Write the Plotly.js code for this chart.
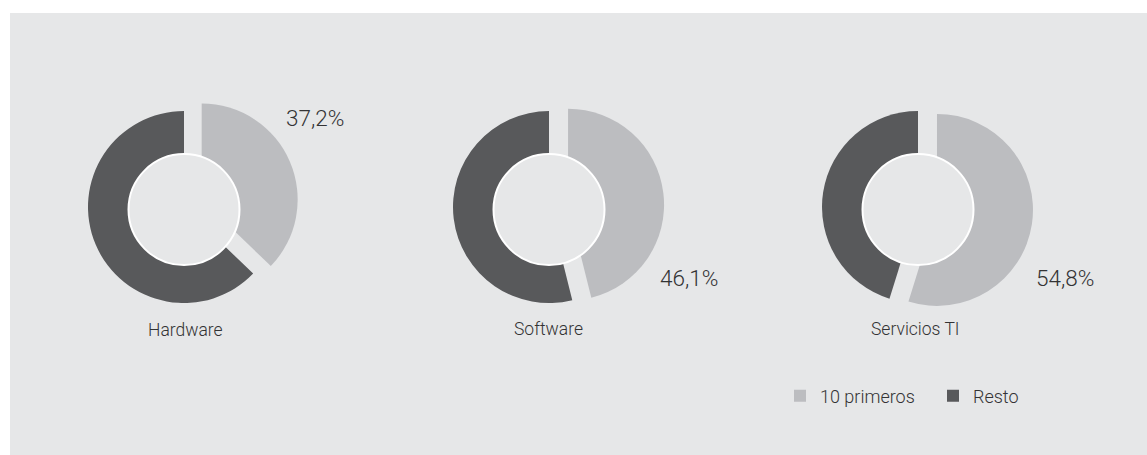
<!DOCTYPE html>
<html>
<head>
<meta charset="utf-8">
<script src="https://cdn.plot.ly/plotly-3.0.1.min.js"></script>
<style>
  html, body { margin: 0; padding: 0; background: #ffffff; }
  #chart { width: 1147px; height: 455px; }
</style>
</head>
<body>
<div id="chart"></div>
<script>
// ---- data ----
const categories = ["Hardware", "Software", "Servicios TI"];
const sliceLabels = ["10 primeros", "Resto"];
const top10Share = [37.2, 46.1, 54.8];
const restShare = [62.8, 53.9, 45.2];

// ---- style / layout constants ----
const W = 1147, H = 455;
const BG = "#e6e7e8";
const LIGHT = "#bcbdc0";
const DARK = "#58595b";
const TXT = "#333334";
const FONT = "Roboto, Liberation Sans, Arial, sans-serif";
const WEIGHT = 300;

const centersX = [184, 549, 918];
const centerY = 207;
const outerR = 96;
const pull = 0.2;
const holeR = 55.5;
const holeDy = 2.6;
const pctPos = [[284, 118], [658, 278], [1034, 278]];
const catPos = [[185, 330], [548, 329], [915.5, 329]];

const px = x => x / W;
const py = y => 1 - y / H;

const half = outerR * (1 + pull);
const traces = categories.map((c, i) => ({
  type: "pie",
  name: c,
  labels: sliceLabels,
  values: [top10Share[i], restShare[i]],
  sort: false,
  direction: "clockwise",
  rotation: 0,
  pull: [pull, 0],
  textinfo: "none",
  hoverinfo: "label+percent",
  marker: { colors: [LIGHT, DARK], line: { width: 0 } },
  domain: {
    x: [px(centersX[i] - half), px(centersX[i] + half)],
    y: [py(centerY + half), py(centerY - half)]
  },
  showlegend: true
}));

const fmt = v => v.toFixed(1).replace(".", ",") + "%";

const annotations = [];
categories.forEach((c, i) => {
  annotations.push({
    xref: "paper", yref: "paper",
    x: px(pctPos[i][0]), y: py(pctPos[i][1]),
    xanchor: "left", yanchor: "middle",
    text: fmt(top10Share[i]), showarrow: false,
    font: { family: FONT, size: 22.5, color: TXT, weight: WEIGHT }
  });
  annotations.push({
    xref: "paper", yref: "paper",
    x: px(catPos[i][0]), y: py(catPos[i][1]),
    xanchor: "center", yanchor: "middle",
    text: c, showarrow: false,
    font: { family: FONT, size: 17.5, color: TXT, weight: WEIGHT }
  });
});

const shapes = [{
  type: "rect", xref: "paper", yref: "paper", layer: "below",
  x0: px(10), x1: 1, y0: 0, y1: py(13),
  fillcolor: BG, line: { width: 0 }
}];
centersX.forEach(cx => {
  shapes.push({
    type: "circle", xref: "paper", yref: "paper", layer: "above",
    x0: px(cx - holeR), x1: px(cx + holeR),
    y0: py(centerY + holeDy + holeR), y1: py(centerY + holeDy - holeR),
    fillcolor: BG, line: { color: "#ffffff", width: 2 }
  });
});

const layout = {
  width: W, height: H,
  margin: { l: 0, r: 0, t: 0, b: 0 },
  paper_bgcolor: "#ffffff",
  plot_bgcolor: "rgba(0,0,0,0)",
  font: { family: FONT, color: TXT, weight: WEIGHT },
  showlegend: true,
  legend: {
    orientation: "h",
    x: px(780), y: py(396),
    xanchor: "left", yanchor: "middle",
    entrywidth: 108,
    bgcolor: "rgba(0,0,0,0)",
    font: { family: FONT, size: 18, color: TXT, weight: WEIGHT }
  },
  annotations: annotations,
  shapes: shapes
};

Plotly.newPlot("chart", traces, layout, { displayModeBar: false, staticPlot: true });
</script>
</body>
</html>
